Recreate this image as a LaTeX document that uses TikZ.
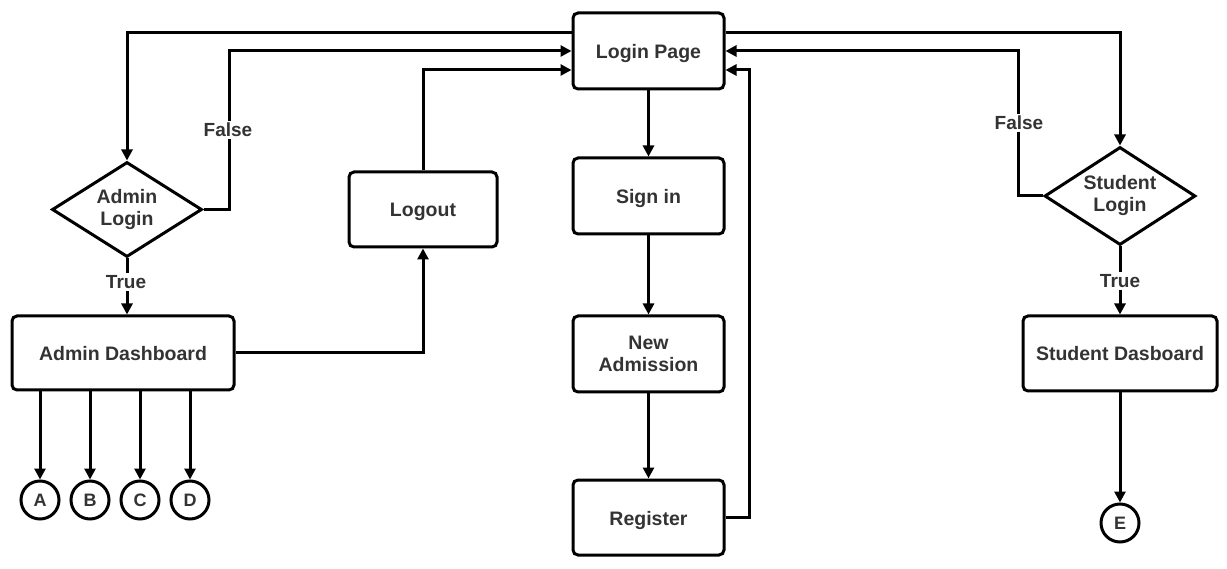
\documentclass[tikz,border=0pt]{standalone}
\usepackage{fontspec}
\setmainfont{Liberation Sans}
\usetikzlibrary{arrows.meta,shapes.geometric}
\definecolor{txt}{HTML}{333333}
\tikzset{
  box/.style={draw=black,line width=3pt,rounded corners=5pt,fill=white,align=center,
     font=\fontsize{19.5}{22}\selectfont\bfseries,text=txt,inner sep=0pt},
  one/.style={text height=15pt,text depth=0pt},
  dia/.style={draw=black,line width=3pt,diamond,aspect=1.55,fill=white,align=center,inner sep=0pt,
     font=\fontsize{19.5}{22}\selectfont\bfseries,text=txt},
  circ/.style={draw=black,line width=3pt,circle,minimum size=38pt,inner sep=0pt,
     font=\fontsize{18}{20}\selectfont\bfseries,text=txt},
  lbl/.style={fill=white,inner sep=2pt,font=\fontsize{19}{22}\selectfont\bfseries,text=txt},
  arr/.style={line width=3pt,-{Triangle[length=11pt,width=11pt]}},
}
\begin{document}
\begin{tikzpicture}[x=1pt,y=-1pt]
\useasboundingbox[fill=white] (0,0) rectangle (1227,569);
% boxes
\node[box,one,minimum width=151pt,minimum height=76pt] (login) at (648.5,51) {Login Page};
\node[box,one,minimum width=151pt,minimum height=76pt] (signin) at (648.5,196) {Sign in};
\node[box,minimum width=151pt,minimum height=76pt] (newadm) at (648.5,354) {New\\Admission};
\node[box,one,minimum width=151pt,minimum height=75pt] (register) at (648.5,517.5) {Register};
\node[box,one,minimum width=148pt,minimum height=75pt] (logout) at (423,209.5) {Logout};
\node[box,one,minimum width=222pt,minimum height=74pt] (adash) at (123,353) {Admin Dashboard};
\node[box,one,minimum width=194pt,minimum height=75pt] (sdash) at (1120,353.5) {Student Dasboard};
% diamonds
\node[dia,minimum width=150pt,minimum height=95pt] (alogin) at (127,209.5) {Admin\\Login};
\node[dia,minimum width=151pt,minimum height=98pt] (slogin) at (1120,196) {Student\\Login};
% circles
\node[circ] (A) at (40,500) {A};
\node[circ] (B) at (90,500) {B};
\node[circ] (C) at (140,500) {C};
\node[circ] (D) at (190,500) {D};
\node[circ] (E) at (1120,523) {E};
% connectors
\draw[arr] ([yshift=18pt]login.west) -| (alogin.north);
\draw[arr] (alogin.east) -- ++(26,0) |- (login.west);
\node[lbl] (falseA) at (228,130) {False};
\draw[arr] (logout.north) |- ([yshift=-19pt]login.west);
\draw[arr] (alogin.south) -- (alogin.south |- adash.north);
\node[lbl] (trueA) at (126,282) {True};
\draw[arr] (adash.east) -| (logout.south);
\draw[arr] (adash.south -| A) -- (A);
\draw[arr] (adash.south -| B) -- (B);
\draw[arr] (adash.south -| C) -- (C);
\draw[arr] (adash.south -| D) -- (D);
\draw[arr] (login.south) -- (signin.north);
\draw[arr] (signin.south) -- (newadm.north);
\draw[arr] (newadm.south) -- (register.north);
\draw[arr] (register.east) -- ++(24,0) |- ([yshift=-19pt]login.east);
\draw[arr] ([yshift=18pt]login.east) -| (slogin.north);
\draw[arr] (slogin.west) -- ++(-25,0) |- (login.east);
\node[lbl] (falseS) at (1019,123) {False};
\draw[arr] (slogin.south) -- (sdash.north);
\node[lbl] (trueS) at (1120,281) {True};
\draw[arr] (sdash.south) -- (E);
\end{tikzpicture}
\end{document}
